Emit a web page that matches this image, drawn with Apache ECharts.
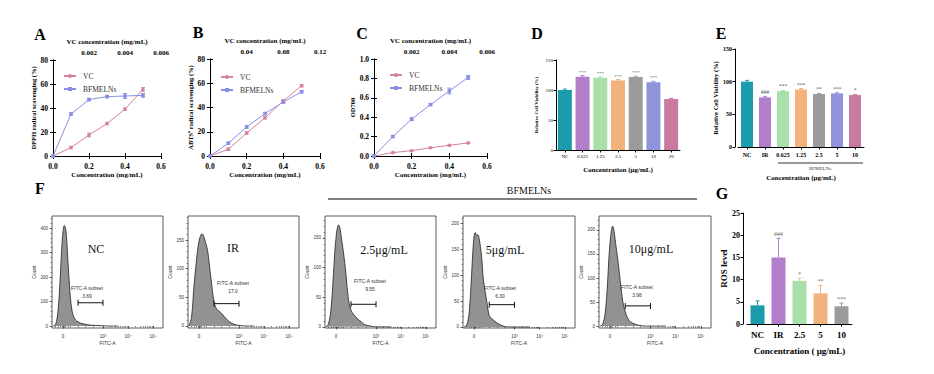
<!DOCTYPE html>
<html><head><meta charset="utf-8">
<script src="https://cdn.jsdelivr.net/npm/echarts@6/dist/echarts.min.js"></script>
<style>html,body{margin:0;padding:0;background:#fff}#c{width:934px;height:374px}</style>
</head><body><div id="c"></div>
<script>
// ---------------- DATA ----------------
const conc = [0, 0.1, 0.2, 0.3, 0.4, 0.5];
const dpphVC = [0, 7, 17.5, 27, 39, 55.5];
const dpphVCErr = [0, 1, 1.5, 1, 1, 1.5];
const dpphBF = [0, 35, 47, 49.5, 50, 50.5];
const dpphBFErr = [0, 1, 1, 1, 2, 1.5];
const abtsVC = [0, 5.5, 19, 31.5, 45.5, 58];
const abtsVCErr = [0, 1, 1, 1, 1, 1];
const abtsBF = [0, 10.5, 24, 35, 44.5, 53];
const abtsBFErr = [0, 1, 1, 1, 1, 1];
const odVC = [0, 0.035, 0.055, 0.085, 0.11, 0.135];
const odVCErr = [0, 0.005, 0.005, 0.005, 0.005, 0.006];
const odBF = [0, 0.2, 0.38, 0.53, 0.67, 0.81];
const odBFErr = [0, 0.01, 0.015, 0.01, 0.03, 0.02];

const dCats = ['NC', '0.625', '1.25', '2.5', '5', '10', '20'];
const dVals = [100, 122, 120.5, 116, 121.5, 113, 85];
const dErr = [1.5, 2, 1.5, 1.5, 1.5, 1.5, 1];
const dMarks = ['', '***', '***', '***', '***', '***', ''];

const eCats = ['NC', 'IR', '0.625', '1.25', '2.5', '5', '10'];
const eVals = [100, 76, 85.5, 88, 81, 82, 79.5];
const eErr = [2, 1.5, 1, 1.5, 1, 1, 1];
const eMarks = ['', '###', '***', '***', '**', '***', '*'];

const gCats = ['NC', 'IR', '2.5', '5', '10'];
const gVals = [4.2, 15, 9.7, 6.9, 4.0];
const gErr = [1.0, 4.3, 0.6, 1.8, 0.7];
const gMarks = ['', '###', '*', '**', '***'];

// flow histograms (x in display units: "0"=1.4, 10^3=3, 10^4=4, 10^5=5)
const flowPos = [1.0, 1.1, 1.2, 1.3, 1.35, 1.4, 1.45, 1.5, 1.55, 1.6, 1.65, 1.7, 1.75, 1.8, 1.9, 2.0, 2.1, 2.2, 2.3, 2.4, 2.5, 2.6, 2.8, 3.0, 3.3, 3.6];
const flowNC  = [0, 5, 60, 220, 320, 385, 410, 400, 350, 260, 180, 110, 70, 45, 25, 17, 12, 9, 7, 5, 4, 3, 2, 1, 0, 0];
const flowIR  = [0, 15, 70, 115, 135, 148, 156, 160, 160, 155, 148, 140, 130, 112, 75, 42, 30, 26, 22, 17, 12, 8, 3, 1, 0, 0];
const flow25  = [0, 5, 30, 90, 125, 150, 166, 172, 168, 155, 140, 125, 108, 88, 45, 28, 21, 16, 12, 9, 5, 3, 1, 0, 0, 0];
const flow5   = [0, 3, 25, 100, 145, 175, 182, 176, 178, 170, 155, 135, 100, 80, 50, 22, 16, 12, 8, 5, 3, 1, 0, 0, 0, 0];
const flow10  = [0, 3, 25, 90, 140, 175, 198, 208, 200, 180, 160, 140, 118, 95, 52, 30, 16, 9, 6, 4, 2, 1, 0, 0, 0, 0];
const flowNames = ['NC', 'IR', '2.5μg/mL', '5μg/mL', '10μg/mL'];
const flowSubset = ['3.69', '17.0', '9.55', '6.30', '3.98'];
const flowGateCount = [95, 39, 38, 43, 42];
const flowGate = [2.0, 3.0];
const flowYMajor = [[0, 100, 200, 300, 400], [0, 50, 100, 150], [0, 50, 100, 150], [0, 50, 100, 150, 200], [0, 50, 100, 150, 200]];
const flowYMinorStep = [20, 10, 10, 10, 10];
const flowXMajor = [1.4, 3, 4, 5];
const flowXLabels = ['0', '10³', '10⁴', '10⁵'];
const flowXMinor = [1.1, 1.2, 1.3, 1.35, 1.45, 1.5, 1.6, 1.7, 2.0, 2.3, 2.6, 3.30, 3.48, 3.60, 3.70, 3.78, 3.85, 3.90, 3.95, 4.30, 4.48, 4.60, 4.70, 4.78, 4.85, 4.90, 4.95];

// ---------------- STYLE ----------------
const SERIF = "'Liberation Serif','Times New Roman',serif";
const SANS = "'Liberation Sans',Arial,sans-serif";
const cVC = '#d4829f', cBF = '#8b8fe3';
const dColors = ['#1b9cad', '#b27dc9', '#a9dfa8', '#f2b27c', '#9b9b9d', '#8f93dc', '#c87b9f'];
const eColors = ['#1b9cad', '#b27dc9', '#a9dfa8', '#f2b27c', '#9b9b9d', '#8f93dc', '#c87b9f'];
const gColors = ['#1b9cad', '#b27dc9', '#a9dfa8', '#f2b27c', '#9b9b9d'];

const grids = [], xAxes = [], yAxes = [], series = [], graphics = [], legends = [];
function addGrid(o) { grids.push(o); return grids.length - 1; }
function addX(o) { xAxes.push(o); return xAxes.length - 1; }
function addY(o) { yAxes.push(o); return yAxes.length - 1; }
const blk = { color: '#000', width: 1 };

function txt(x, y, text, font, fill, align, valign) {
  graphics.push({ type: 'text', x: x, y: y, silent: true,
    style: { text: text, font: font, fill: fill || '#000', textAlign: align || 'center', textVerticalAlign: valign || 'middle' } });
}
function gline(x1, y1, x2, y2, w) {
  graphics.push({ type: 'line', silent: true, shape: { x1, y1, x2, y2 }, style: { stroke: '#000', lineWidth: w || 1 } });
}

function errSeries(xi, yi, xs, ys, es, color, cap, both, marks, markFont, markColor) {
  return {
    type: 'custom', xAxisIndex: xi, yAxisIndex: yi, silent: true, z: 5,
    data: xs.map((x, i) => [x, ys[i], es[i]]),
    renderItem: function (p, api) {
      const x = api.value(0), y = api.value(1), e = api.value(2);
      const top = api.coord([x, y + e]);
      const bot = api.coord([x, both ? y - e : y]);
      const ch = [];
      if (e > 0) {
        ch.push({ type: 'line', shape: { x1: top[0], y1: top[1], x2: bot[0], y2: bot[1] }, style: { stroke: color, lineWidth: 1 } });
        ch.push({ type: 'line', shape: { x1: top[0] - cap, y1: top[1], x2: top[0] + cap, y2: top[1] }, style: { stroke: color, lineWidth: 1 } });
        if (both) ch.push({ type: 'line', shape: { x1: bot[0] - cap, y1: bot[1], x2: bot[0] + cap, y2: bot[1] }, style: { stroke: color, lineWidth: 1 } });
      }
      const m = marks ? marks[p.dataIndex] : '';
      if (m) ch.push({ type: 'text', x: top[0], y: top[1] - 1, style: { text: m, font: markFont, fill: markColor, textAlign: 'center', textVerticalAlign: 'bottom' } });
      return { type: 'group', children: ch };
    }
  };
}

// ---------------- LINE PANELS A/B/C ----------------
function linePanel(c) {
  const gi = addGrid({ left: c.l, right: 934 - c.r, top: c.t, bottom: 374 - c.b });
  const lab = { fontFamily: SERIF, fontWeight: 'bold', fontSize: 7.5, color: '#000' };
  const nm = { fontFamily: SERIF, fontWeight: 'bold', fontSize: 7, color: '#000' };
  const xi = addX({ gridIndex: gi, type: 'value', min: 0, max: 0.6, interval: 0.2, position: 'bottom',
    axisLine: { show: true, lineStyle: blk }, axisTick: { show: true, length: 3, lineStyle: blk }, splitLine: { show: false },
    axisLabel: Object.assign({ margin: 6, formatter: v => v.toFixed(1) }, lab),
    name: 'Concentration (mg/mL)', nameLocation: 'middle', nameGap: 15, nameTextStyle: nm });
  addX({ gridIndex: gi, type: 'value', min: 0, max: c.topMax, interval: c.topInt, position: 'top',
    axisLine: { show: true, lineStyle: blk }, axisTick: { show: true, length: 3, lineStyle: blk }, splitLine: { show: false },
    axisLabel: Object.assign({ margin: 4, formatter: v => v === 0 ? '' : v.toFixed(c.topDig) }, lab, { fontSize: 7 }),
    name: 'VC concentration (mg/mL)', nameLocation: 'middle', nameGap: 15, nameTextStyle: nm });
  const yi = addY({ gridIndex: gi, type: 'value', min: 0, max: c.yMax, interval: c.yInt, position: 'left',
    axisLine: { show: true, lineStyle: blk }, axisTick: { show: true, length: 3, lineStyle: blk }, splitLine: { show: false },
    axisLabel: Object.assign({ margin: 5, formatter: v => v.toFixed(c.yDig) }, lab),
    name: c.yName, nameLocation: 'middle', nameGap: c.yGap, nameTextStyle: Object.assign({}, nm, { fontSize: 6.5 }) });
  addY({ gridIndex: gi, type: 'value', min: 0, max: c.yMax, interval: c.yInt, position: 'right',
    axisLine: { show: true, lineStyle: blk }, axisTick: { show: true, length: 3, lineStyle: blk }, splitLine: { show: false },
    axisLabel: { show: false } });
  series.push({ type: 'line', name: 'VC', xAxisIndex: xi, yAxisIndex: yi, data: conc.map((x, i) => [x, c.vc[i]]),
    symbol: 'circle', symbolSize: 3.5, itemStyle: { color: cVC }, lineStyle: { color: cVC, width: 1 }, z: 3 });
  series.push({ type: 'line', name: 'BFMELNs', xAxisIndex: xi, yAxisIndex: yi, data: conc.map((x, i) => [x, c.bf[i]]),
    symbol: 'rect', symbolSize: 3.5, itemStyle: { color: cBF }, lineStyle: { color: cBF, width: 1 }, z: 3 });
  series.push(errSeries(xi, yi, conc, c.vc, c.vcErr, cVC, 2, true));
  series.push(errSeries(xi, yi, conc, c.bf, c.bfErr, cBF, 2, true));
  legends.push({ left: c.lgX, top: c.lgY, orient: 'vertical', itemGap: 5, itemWidth: 12, itemHeight: 5,
    data: ['VC', 'BFMELNs'], textStyle: { fontFamily: SERIF, fontSize: 7.5, color: '#333', padding: [0, 0, 0, 2] }, selectedMode: false });
}
linePanel({ l: 53, r: 161, t: 60, b: 156, yMax: 80, yInt: 20, yDig: 0, topMax: 0.006, topInt: 0.002, topDig: 3,
  yName: 'DPPH radical scavenging (%)', yGap: 15.5, vc: dpphVC, vcErr: dpphVCErr, bf: dpphBF, bfErr: dpphBFErr, lgX: 58, lgY: 67 });
linePanel({ l: 210, r: 320, t: 59, b: 156, yMax: 80, yInt: 20, yDig: 0, topMax: 0.12, topInt: 0.04, topDig: 2,
  yName: 'ABTS⁺ radical scavenging (%)', yGap: 15, vc: abtsVC, vcErr: abtsVCErr, bf: abtsBF, bfErr: abtsBFErr, lgX: 215, lgY: 68 });
linePanel({ l: 374, r: 487, t: 59, b: 156, yMax: 1.0, yInt: 0.2, yDig: 1, topMax: 0.006, topInt: 0.002, topDig: 3,
  yName: 'OD700', yGap: 17.5, vc: odVC, vcErr: odVCErr, bf: odBF, bfErr: odBFErr, lgX: 384, lgY: 66 });

// ---------------- BAR PANELS D/E/G ----------------
function barPanel(c) {
  const gi = addGrid({ left: c.l, right: 934 - c.r, top: c.t, bottom: 374 - c.b });
  const xi = addX({ gridIndex: gi, type: 'category', data: c.cats, position: 'bottom',
    axisLine: { show: true, lineStyle: blk }, axisTick: { show: true, alignWithLabel: true, length: 2.5, lineStyle: blk },
    axisLabel: { interval: 0, margin: c.xm, fontFamily: SERIF, fontWeight: c.xw, fontSize: c.xf, color: '#000' },
    name: c.xName, nameLocation: 'middle', nameGap: c.xGap, nameTextStyle: { fontFamily: SERIF, fontWeight: 'bold', fontSize: c.nf, color: '#000' } });
  const yi = addY({ gridIndex: gi, type: 'value', min: 0, max: c.yMax, interval: c.yInt, offset: c.yOff || 0,
    axisLine: { show: true, lineStyle: blk }, axisTick: { show: true, length: 2.5, lineStyle: blk }, splitLine: { show: false },
    axisLabel: { margin: 3, fontFamily: SERIF, fontWeight: c.yw, fontSize: c.yf, color: '#000' },
    name: c.yName, nameLocation: 'middle', nameGap: c.yGap, nameTextStyle: { fontFamily: SERIF, fontWeight: 'bold', fontSize: c.ynf, color: '#000' } });
  series.push({ type: 'bar', xAxisIndex: xi, yAxisIndex: yi, barWidth: c.bw,
    data: c.vals.map((v, i) => ({ value: v, itemStyle: { color: c.colors[i] } })) });
  series.push(Object.assign(errSeries(xi, yi, c.cats.map((_, i) => i), c.vals, c.errs, '#000', 2, c.both, c.marks, c.mf, c.mc), {}));
  // recolor error bars by bar color
  const s = series[series.length - 1];
  const base = s.renderItem;
  s.renderItem = function (p, api) {
    const g = base(p, api);
    g.children.forEach(ch => { if (ch.type === 'line') ch.style.stroke = c.errColors ? c.errColors[p.dataIndex] : '#000'; });
    return g;
  };
}
barPanel({ l: 556, r: 680, t: 60, b: 150, cats: dCats, vals: dVals, errs: dErr, marks: dMarks, colors: dColors, errColors: dColors,
  yMax: 150, yInt: 50, bw: 14, xm: 4, xw: 'normal', xf: 5, yw: 'normal', yf: 5, nf: 7, ynf: 5,
  xName: 'Concentration (μg/mL)', xGap: 16, yName: 'Relative Cell Viability (%)', yGap: 17, mf: '5px ' + SERIF, mc: '#555', both: true });
barPanel({ l: 738, r: 864, t: 49, b: 147, cats: eCats, vals: eVals, errs: eErr, marks: eMarks, colors: eColors, errColors: eColors,
  yMax: 150, yInt: 50, bw: 12, xm: 5, xw: 'bold', xf: 6, yw: 'bold', yf: 6, nf: 7, ynf: 6.5, yOff: 3,
  xName: 'Concentration (μg/mL)', xGap: 27, yName: 'Relative Cell Viability (%)', yGap: 14, mf: '5.5px ' + SERIF, mc: '#555', both: true });
barPanel({ l: 747, r: 852, t: 213, b: 324, cats: gCats, vals: gVals, errs: gErr, marks: gMarks, colors: gColors, errColors: gColors,
  yMax: 25, yInt: 5, bw: 14, xm: 6, xw: 'bold', xf: 9, yw: 'bold', yf: 8, nf: 9, ynf: 9, yOff: 4,
  xName: 'Concentration ( μg/mL)', xGap: 22, yName: 'ROS level', yGap: 13, mf: '6px ' + SERIF, mc: '#666', both: false });

// ---------------- FLOW PANELS F ----------------
const flowData = [flowNC, flowIR, flow25, flow5, flow10];
const flowFrames = [[52, 163, -8, 449], [188, 299, -3.5, 192], [325, 436, -2, 187], [463, 575, -2, 214], [599, 711, -4, 229]];
flowFrames.forEach((f, k) => {
  const gi = addGrid({ left: f[0], right: 934 - f[1], top: 216, bottom: 46, show: true, borderColor: '#333', borderWidth: 0.8 });
  const small = { fontFamily: SANS, fontSize: 4.5, color: '#333' };
  const xi = addX({ gridIndex: gi, type: 'value', min: 0.96, max: 5.4, position: 'bottom',
    axisLine: { show: false }, splitLine: { show: false },
    axisTick: { show: true, customValues: flowXMajor, length: 2.5, lineStyle: { color: '#333', width: 0.8 } },
    axisLabel: Object.assign({ customValues: flowXMajor, margin: 6,
      formatter: v => flowXLabels[flowXMajor.findIndex(t => Math.abs(t - v) < 1e-6)] || '' }, small),
    name: 'FITC-A', nameLocation: 'middle', nameGap: 12, nameTextStyle: { fontFamily: SANS, fontSize: 5, color: '#333' } });
  addX({ gridIndex: gi, type: 'value', min: 0.96, max: 5.4, position: 'bottom', axisLine: { show: false }, splitLine: { show: false },
    axisTick: { show: true, customValues: flowXMinor, length: 1.3, lineStyle: { color: '#333', width: 0.6 } }, axisLabel: { show: false } });
  const minors = [];
  for (let v = 0; v <= f[3]; v += flowYMinorStep[k]) if (flowYMajor[k].indexOf(v) < 0) minors.push(v);
  const yi = addY({ gridIndex: gi, type: 'value', min: f[2], max: f[3], position: 'left',
    axisLine: { show: false }, splitLine: { show: false },
    axisTick: { show: true, customValues: flowYMajor[k], length: 2.5, lineStyle: { color: '#333', width: 0.8 } },
    axisLabel: Object.assign({ customValues: flowYMajor[k], margin: 4 }, small),
    name: 'Count', nameLocation: 'middle', nameGap: 13, nameTextStyle: { fontFamily: SANS, fontSize: 5, color: '#333' } });
  addY({ gridIndex: gi, type: 'value', min: f[2], max: f[3], position: 'left', axisLine: { show: false }, splitLine: { show: false },
    axisTick: { show: true, customValues: minors, length: 1.3, lineStyle: { color: '#333', width: 0.6 } }, axisLabel: { show: false } });
  series.push({ type: 'line', xAxisIndex: xi, yAxisIndex: yi, smooth: 0.35, symbol: 'none', silent: true,
    data: flowPos.map((x, i) => [x, flowData[k][i]]),
    lineStyle: { color: '#222', width: 0.8 }, areaStyle: { color: '#929292', opacity: 1 } });
  series.push({ type: 'line', xAxisIndex: xi, yAxisIndex: yi, silent: true, symbol: 'rect', symbolSize: [1, 6],
    data: [[flowGate[0], flowGateCount[k]], [flowGate[1], flowGateCount[k]]],
    lineStyle: { color: '#111', width: 1 }, itemStyle: { color: '#111' } });
});
// flow texts
const flowLabelPos = [[96, 249], [233, 248], [384, 250], [505, 250], [651, 249]];
const flowSubsetPos = [[87, 288], [233, 283], [370, 281], [500, 288], [637, 287]];
flowLabelPos.forEach((p, k) => txt(p[0], p[1], flowNames[k], '12px ' + SERIF, '#111'));
flowSubsetPos.forEach((p, k) => {
  txt(p[0], p[1], 'FITC-A subset', '5px ' + SANS, '#333');
  txt(p[0], p[1] + 8, flowSubset[k], '5px ' + SANS, '#333');
});
txt(529, 190, 'BFMELNs', '10px ' + SERIF, '#111');
gline(328, 199, 697, 199, 1.2);
// E bracket
gline(778, 163, 863, 163, 0.8);
txt(820, 168, 'BFMELNs', '5px ' + SERIF, '#333');
// panel letters
[['A', 40, 34], ['B', 198, 32], ['C', 362, 33], ['D', 537, 33], ['E', 721, 33], ['F', 40, 188], ['G', 722, 193]]
  .forEach(l => txt(l[1], l[2], l[0], 'bold 16px ' + SERIF, '#000'));

const chart = echarts.init(document.getElementById('c'), null, { renderer: 'svg' });
chart.setOption({
  backgroundColor: '#fff', animation: false,
  grid: grids, xAxis: xAxes, yAxis: yAxes, series: series, legend: legends, graphic: graphics
});
</script></body></html>
